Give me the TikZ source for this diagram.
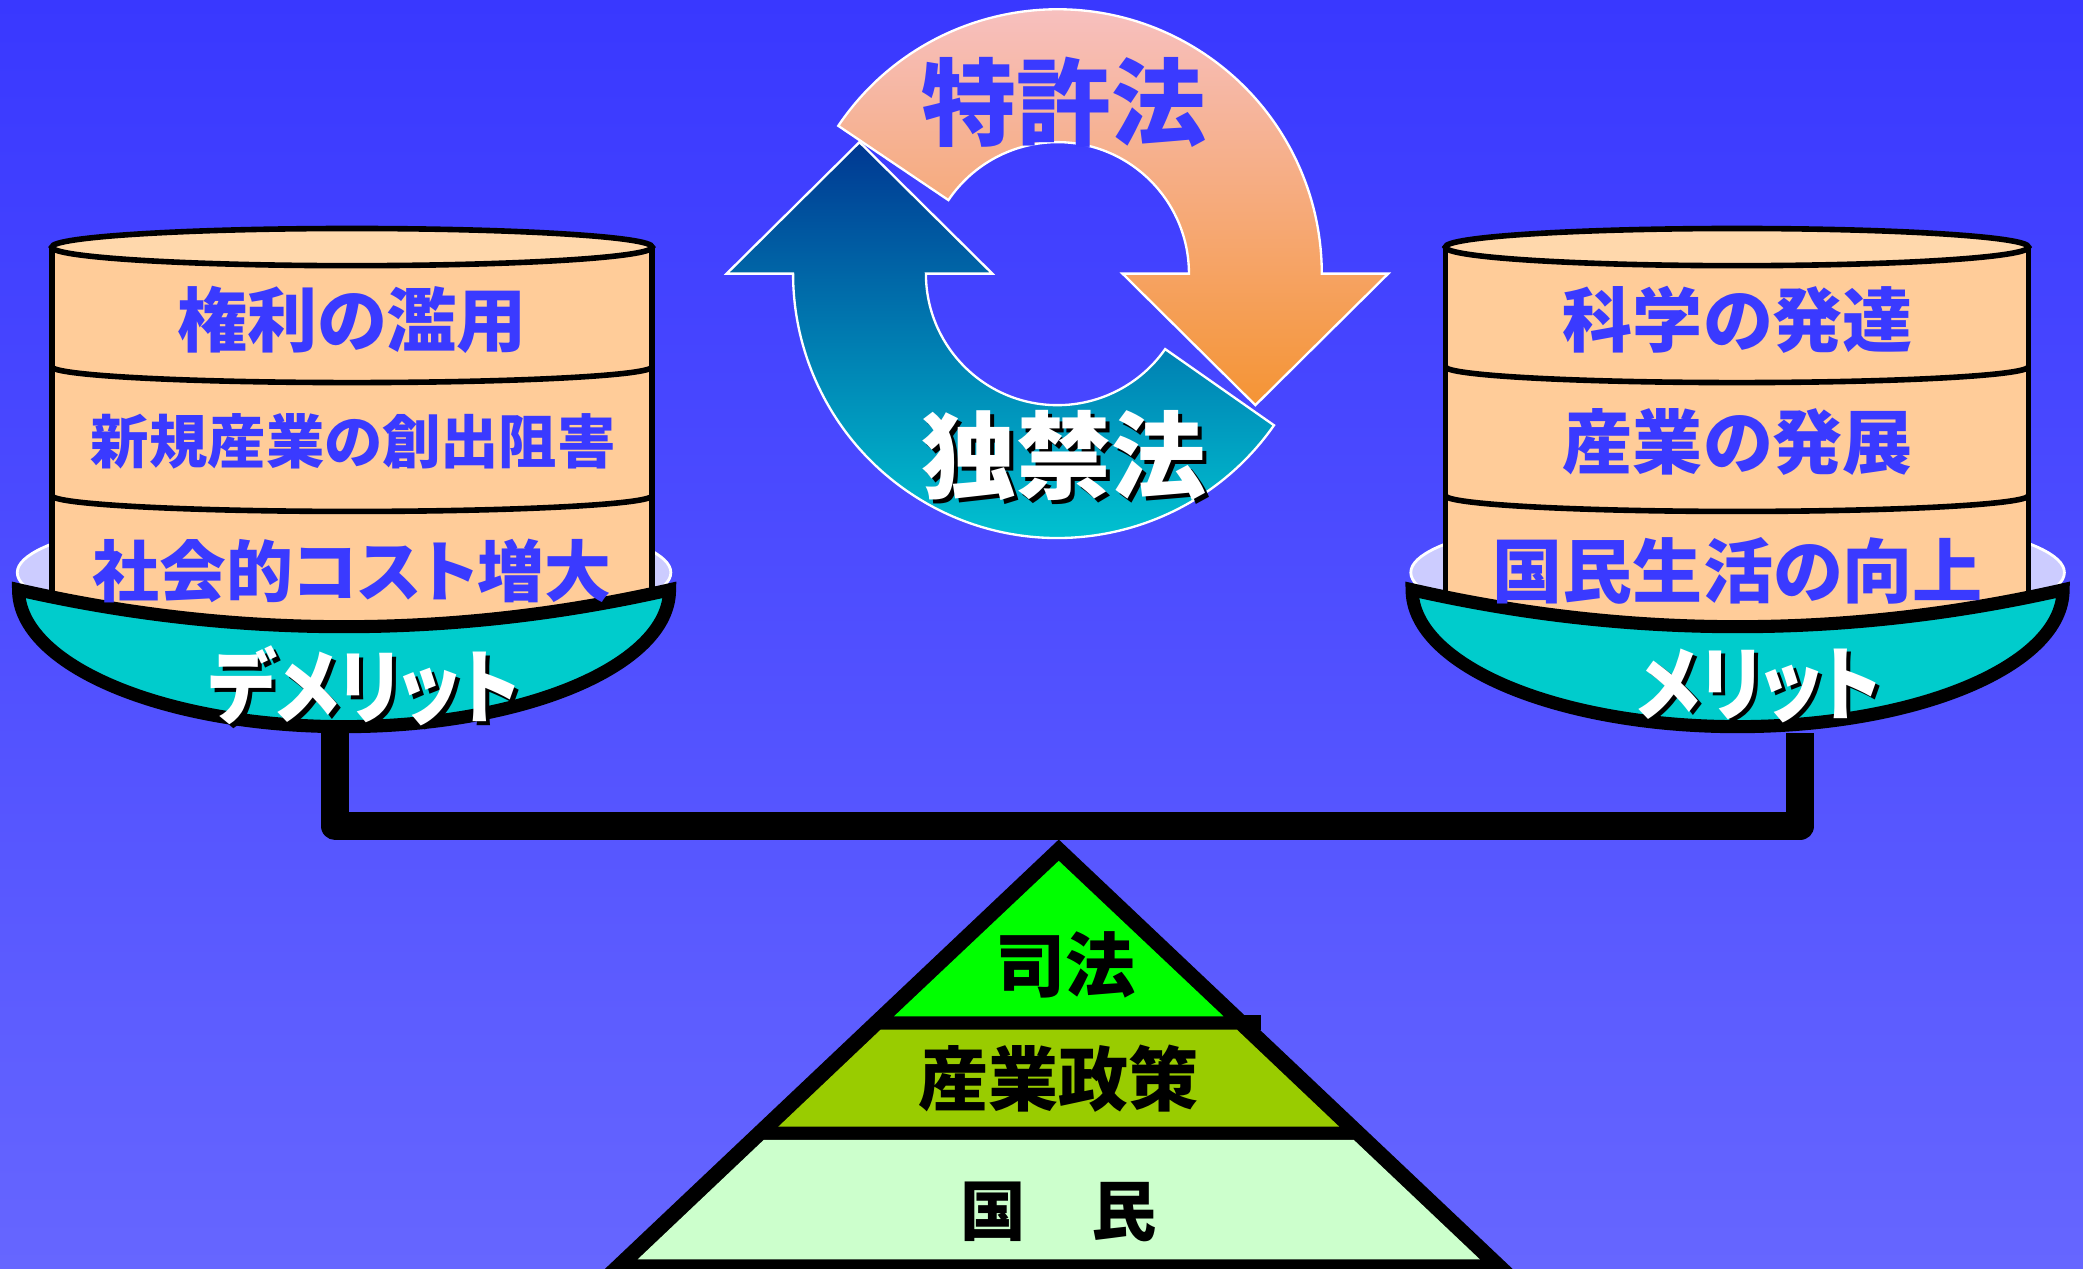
\documentclass[tikz,border=0pt]{standalone}
\usepackage{fontspec}
\usetikzlibrary{calc}
\newfontfamily\jpfont[RawFeature=+palt]{Noto Sans CJK JP}
\newcommand*{\jpsize}[1]{\jpfont\bfseries\fontsize{#1}{#1}\selectfont}
\definecolor{bgtop}{RGB}{57,56,255}
\definecolor{bgbottom}{RGB}{102,102,255}
\definecolor{inkblue}{RGB}{58,58,255}
\definecolor{peach}{RGB}{255,204,153}
\definecolor{peachtop}{RGB}{255,216,172}
\definecolor{rim}{RGB}{204,204,255}
\definecolor{bowl}{RGB}{0,204,204}
\definecolor{courtgreen}{RGB}{0,255,0}
\definecolor{policygreen}{RGB}{153,204,0}
\definecolor{peoplegreen}{RGB}{204,255,204}
\definecolor{pinklight}{RGB}{247,196,204}
\definecolor{pinkdark}{RGB}{245,148,52}
\definecolor{tealdark}{RGB}{0,56,146}
\definecolor{teallight}{RGB}{0,206,214}

\begin{document}
\begin{tikzpicture}[x=0.01cm, y=-0.01cm]
        \tikzstyle{cyl}=[draw=black, line width=1.2pt]
        \tikzstyle{bowlline}=[fill=bowl, draw=black, line width=2.8pt]
        \tikzstyle{rimline}=[fill=rim, draw=white, line width=0.6pt]
        \tikzstyle{rowtext}=[text=inkblue, font=\jpsize{15}, inner sep=0pt]
        \tikzstyle{lawtext}=[font=\jpsize{20.3}, inner sep=0pt]
        \tikzstyle{pantext}=[font=\jpsize{17.5}, inner sep=0pt, xscale=0.87, transform shape]
        \tikzstyle{pyrtext}=[text=black, font=\jpsize{15}, inner sep=0pt]
        \tikzstyle{cyclearrow}=[draw=white, line width=0.5pt, shading angle=45]

        \useasboundingbox (0,0) rectangle (1568,955);
        \clip (0,0) rectangle (1568,955);
        \shade[top color=bgtop, bottom color=bgbottom] (0,0) rectangle (1568,955);

        \coordinate (hub) at (796,206);
        \path[cyclearrow, top color=pinklight, bottom color=pinkdark]
          ($(hub)+(-146:99)$) -- ($(hub)+(-146:199)$)
          arc[start angle=-146, end angle=0, radius=199]
          -- ++(50,0) -- ++(-100,99) -- ++(-100,-99) -- ++(50,0)
          arc[start angle=0, end angle=-146, radius=99] -- cycle;
        \path[cyclearrow, top color=tealdark, bottom color=teallight]
          ($(hub)+(35:99)$) -- ($(hub)+(35:199)$)
          arc[start angle=35, end angle=180, radius=199]
          -- ++(-50,0) -- ++(100,-99) -- ++(100,99) -- ++(-50,0)
          arc[start angle=180, end angle=35, radius=99] -- cycle;

        \coordinate (lhang) at (252.5,552);
        \coordinate (rhang) at (1355,552);
        \draw[line width=6pt, line join=round] (lhang) -- (252.5,622) -- (1355,622) -- (rhang);

        \fill[black] (797,632) -- (1149,965) -- (445,965) -- cycle;
        \fill[black] (700,764) rectangle (949,775);
        \fill[courtgreen] (797,648) -- (921,765) -- (673,765) -- cycle;
        \fill[policygreen] (663,775) -- (931,775) -- (1008,848) -- (586,848) -- cycle;
        \fill[peoplegreen] (575,858) -- (1019,858) -- (1114,948) -- (480,948) -- cycle;

        \foreach \cx/\kx/\kr in {259/265/226, 1308/1307.5/219.5}
        {
          \path[rimline] (\cx,431) ellipse[x radius=246, y radius=48];
          \fill[peach] (\kx-\kr,186) rectangle (\kx+\kr,476);
          \draw[cyl] (\kx-\kr,186) -- (\kx-\kr,466) (\kx+\kr,186) -- (\kx+\kr,466);
          \path[cyl, fill=peachtop] (\kx,186) ellipse[x radius=\kr, y radius=14];
          \draw[cyl] (\kx-\kr,276) arc[start angle=180, end angle=0, x radius=\kr, y radius=12];
          \draw[cyl] (\kx-\kr,373) arc[start angle=180, end angle=0, x radius=\kr, y radius=12];
          \path[bowlline] (\cx-245,444) .. controls (\cx-82,481) and (\cx+82,481) .. (\cx+245,444)
            arc[start angle=0, end angle=180, x radius=245, y radius=103] -- cycle;
        }

        \node[rowtext] (abuse) at (265,241) {権利の濫用};
        \node[rowtext, font=\jpsize{12.5}] (barrier) at (266,332) {新規産業の創出阻害};
        \node[rowtext, font=\jpsize{14.3}] (cost) at (265,430) {社会的コスト増大};
        \node[rowtext] (science) at (1308,241) {科学の発達};
        \node[rowtext] (industry) at (1308,333) {産業の発展};
        \node[rowtext] (life) at (1308,430) {国民生活の向上};

        \node[pantext, text=black] (demerit-sh) at (277,519) {デメリット};
        \node[pantext, text=white] (demerit) at (274,516) {デメリット};
        \node[pantext, text=black] (merit-sh) at (1327,519) {メリット};
        \node[pantext, text=white] (merit) at (1324,516) {メリット};

        \node[lawtext, text=inkblue] (patent) at (801,77) {特許法};
        \node[lawtext, text=black] (antitrust-sh) at (804,346) {独禁法};
        \node[lawtext, text=white] (antitrust) at (801,343) {独禁法};

        \node[pyrtext] (court) at (802,726) {司法};
        \node[pyrtext] (policy) at (797,812) {産業政策};
        \node[pyrtext, font=\jpsize{14}] (people) at (797,912) {国　民};
      \end{tikzpicture}
\end{document}
